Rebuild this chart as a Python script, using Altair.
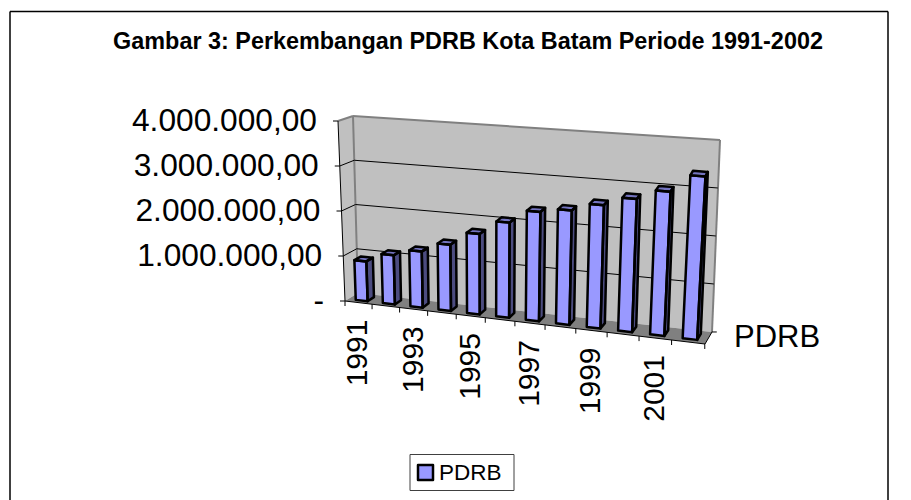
import altair as alt
import pandas as pd

# ---- values ----
YEARS = [1991, 1992, 1993, 1994, 1995, 1996, 1997, 1998, 1999, 2000, 2001, 2002]
PDRB = [885000, 1085000, 1231000, 1443000, 1739000, 2048000, 2335000, 2426000, 2600000, 2790000, 3000000, 3370000]
Y_TICKS = [0, 1000000, 2000000, 3000000, 4000000]
Y_LABELS = ["-", "1.000.000,00", "2.000.000,00", "3.000.000,00", "4.000.000,00"]
X_LABELLED = [1991, 1993, 1995, 1997, 1999, 2001]
TITLE = "Gambar 3: Perkembangan PDRB Kota Batam Periode 1991-2002"
SERIES = "PDRB"
YMAX = 4000000

# ---- oblique projection of the Excel-like 3D box onto the picture ----
FL, FR, BL, BR = (345, 301), (705, 344), (358, 293), (712, 332)
FLT, FRT, BLT, BRT = (338, 121), (716, 149), (353, 116), (720, 140)


def warp(u):
    return ((23.8 * u + 345) / (1 - 0.00877 * u) - 345) / 360


def lerp(a, b, t):
    return (a[0] + (b[0] - a[0]) * t, a[1] + (b[1] - a[1]) * t)


def P(u, val, d):
    s = warp(u)
    t = val / YMAX
    bottom = lerp(lerp(FL, FR, s), lerp(BL, BR, s), d)
    top = lerp(lerp(FLT, FRT, s), lerp(BLT, BRT, s), d)
    return lerp(bottom, top, t)


def area_rows(name, pts, fill):
    """Convex polygon as an area: upper and lower hull at every vertex x."""
    xs = sorted({round(p[0], 3) for p in pts})
    n = len(pts)
    rows = []
    for x in xs:
        ys = []
        for k in range(n):
            a, b = pts[k], pts[(k + 1) % n]
            lo, hi = min(a[0], b[0]), max(a[0], b[0])
            if lo - 0.002 <= x <= hi + 0.002:
                if abs(b[0] - a[0]) < 1e-6:
                    ys += [a[1], b[1]]
                else:
                    ys.append(a[1] + (b[1] - a[1]) * (x - a[0]) / (b[0] - a[0]))
        rows.append(dict(poly=name, x=x, y=min(ys), y2=max(ys), fill=fill))
    return rows


def outline_rows(name, pts):
    closed = list(pts) + [pts[0], pts[1]]
    return [dict(poly=name, x=p[0], y=p[1], k=i) for i, p in enumerate(closed)]


W, H = 895, 492
X = alt.X("x:Q", scale=alt.Scale(domain=[8, 8 + W], range=[0, W]), axis=None)
Y = alt.Y("y:Q", scale=alt.Scale(domain=[8 + H, 8], range=[H, 0]), axis=None)


def polys(rows):
    return alt.Chart(pd.DataFrame(rows)).mark_area(interpolate="linear", opacity=1, clip=False).encode(
        x=X, y=Y, y2="y2:Q", detail="poly:N", fill=alt.Fill("fill:N", scale=None)
    )


def rules(rows):
    return alt.Chart(pd.DataFrame(rows)).mark_rule().encode(
        x=X, y=Y, x2="x2:Q", y2="y2:Q",
        stroke=alt.Stroke("c:N", scale=None),
        strokeWidth=alt.StrokeWidth("w:Q", scale=None),
    )


def seg(a, b, c="#000000", w=1.0):
    return dict(x=a[0], y=a[1], x2=b[0], y2=b[1], c=c, w=w)


N = len(YEARS)

# walls and floor
walls = []
walls += area_rows("back", [BLT, BRT, BR, BL], "#C0C0C0")
walls += area_rows("left", [FLT, BLT, BL, FL], "#C0C0C0")
floor = area_rows("floor", [FL, FR, BR, BL], "#808080")

# chart frame, wall edges and gridlines
under = [
    seg((10, 11.5), (888, 11.5), "#000000", 1.5),
    seg((10, 11.5), (10, 500), "#000000", 1.5),
    seg((888, 11.5), (888, 500), "#000000", 1.5),
    seg(BLT, BL, "#808080", 2),
    seg(BLT, BRT, "#808080", 2),
    seg(BRT, BR, "#808080", 2),
    seg(FLT, BLT, "#808080", 2),
]
for v in Y_TICKS[1:-1]:
    under.append(seg(P(0, v, 0), P(0, v, 1), "#000000", 1))
    under.append(seg(P(0, v, 1), P(N, v, 1), "#000000", 1))

# bars
fills, lines = [], []
for i, v in enumerate(PDRB):
    u0, u1, d0, d1 = i + 0.28, i + 0.72, 0.25, 0.75
    front = [P(u0, v, d0), P(u1, v, d0), P(u1, 0, d0), P(u0, 0, d0)]
    side = [P(u1, v, d0), P(u1, v, d1), P(u1, 0, d1), P(u1, 0, d0)]
    top = [P(u0, v, d1), P(u1, v, d1), P(u1, v, d0), P(u0, v, d0)]
    fills += area_rows(f"front{i}", front, "#9999FF")
    fills += area_rows(f"side{i}", side, "#4C4C80")
    fills += area_rows(f"top{i}", top, "#7373BF")
    lines += outline_rows(f"front{i}", front)
    lines += outline_rows(f"side{i}", side)
    lines += outline_rows(f"top{i}", top)

# legend swatch
swatch = [(418, 465), (433, 465), (433, 480), (418, 480)]
fills += area_rows("swatch", swatch, "#9999FF")
lines += outline_rows("swatch", swatch)

# axes drawn over the box
over = [seg(FLT, FL), seg(FL, FR), seg(FR, BR)]
for v in Y_TICKS:
    a = P(0, v, 0)
    over.append(seg(a, (a[0] - 5, a[1])))
for u in range(N + 1):
    a = P(u, 0, 0)
    over.append(seg(a, (a[0], a[1] + 5)))
a = P(N, 0, 1)
over.append(seg(a, (a[0] + 5, a[1])))

# legend box
LB = (410, 454.5, 514, 490.5)
over += [
    seg((LB[0], LB[1]), (LB[2], LB[1]), "#404040", 1),
    seg((LB[0], LB[1]), (LB[0], LB[3]), "#404040", 1),
    seg((LB[2], LB[1]), (LB[2], LB[3]), "#404040", 1),
    seg((LB[0], LB[3]), (LB[2], LB[3]), "#404040", 1),
]

FONT = "Liberation Sans"
bar_outline = alt.Chart(pd.DataFrame(lines)).mark_line(
    stroke="#000000", strokeWidth=2.5, strokeJoin="round", interpolate="linear"
).encode(x=X, y=Y, detail="poly:N", order="k:Q")

title = alt.Chart(pd.DataFrame([dict(x=468, y=42, t=TITLE)])).mark_text(
    font=FONT, fontSize=23.4, fontWeight="bold", align="center", baseline="middle", color="#000000"
).encode(x=X, y=Y, text="t:N")

ylab_rows = []
for v, t in zip(Y_TICKS, Y_LABELS):
    a = P(0, v, 0)
    ylab_rows.append(dict(x=a[0] - 21, y=a[1], t=t))
ylabs = alt.Chart(pd.DataFrame(ylab_rows)).mark_text(
    font=FONT, fontSize=31.7, align="right", baseline="middle", color="#000000"
).encode(x=X, y=Y, text="t:N")

xlab_rows = []
for yr in X_LABELLED:
    a = P(YEARS.index(yr) + 0.5, 0, 0)
    xlab_rows.append(dict(x=a[0], y=a[1] + 17, t=str(yr)))
xlabs = alt.Chart(pd.DataFrame(xlab_rows)).mark_text(
    font=FONT, fontSize=30, angle=270, align="right", baseline="middle", color="#000000"
).encode(x=X, y=Y, text="t:N")

depth_lab = alt.Chart(pd.DataFrame([dict(x=734, y=338, t=SERIES)])).mark_text(
    font=FONT, fontSize=31, align="left", baseline="middle", color="#000000"
).encode(x=X, y=Y, text="t:N")

legend_lab = alt.Chart(pd.DataFrame([dict(x=439, y=472.5, t=SERIES)])).mark_text(
    font=FONT, fontSize=22.5, align="left", baseline="middle", color="#000000"
).encode(x=X, y=Y, text="t:N")

chart = alt.layer(
    polys(walls), rules(under), polys(floor), polys(fills), bar_outline, rules(over),
    title, ylabs, xlabs, depth_lab, legend_lab,
).properties(
    width=W, height=H, padding=0, autosize=alt.AutoSizeParams(type="none"),
    background="#FFFFFF",
).configure_view(stroke=None)

chart.save("out.html", embed_options={"renderer": "svg", "actions": False})
